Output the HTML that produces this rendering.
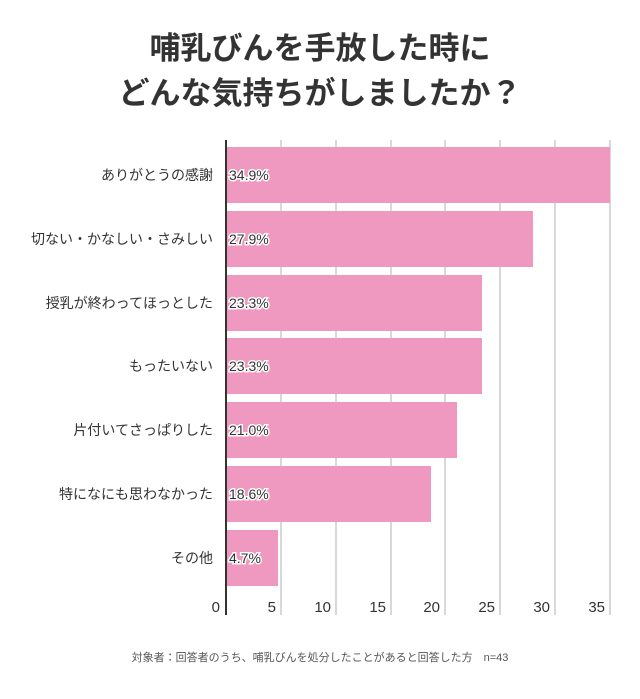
<!DOCTYPE html>
<html><head><meta charset="utf-8"><style>
body{margin:0;background:#fff;width:640px;height:694px;overflow:hidden;font-family:"Liberation Sans","Noto Sans CJK JP",sans-serif}
</style></head><body>
<svg width="640" height="694" xmlns="http://www.w3.org/2000/svg" font-family="Liberation Sans, Noto Sans CJK JP, sans-serif">
<text x="320" y="59" text-anchor="middle" font-size="31" font-weight="bold" fill="#333">哺乳びんを手放した時に</text>
<text x="320" y="104" text-anchor="middle" font-size="31" font-weight="bold" fill="#333">どんな気持ちがしましたか？</text>
<g stroke="#ccc" stroke-width="1.5">
<line x1="281" y1="140" x2="281" y2="615"/><line x1="336" y1="140" x2="336" y2="615"/>
<line x1="391" y1="140" x2="391" y2="615"/><line x1="445" y1="140" x2="445" y2="615"/>
<line x1="500" y1="140" x2="500" y2="615"/><line x1="555" y1="140" x2="555" y2="615"/>
<line x1="610" y1="140" x2="610" y2="615"/>
</g>
<g fill="#f099c0">
<rect x="226" y="147" width="384" height="56"/>
<rect x="226" y="211" width="307" height="56"/>
<rect x="226" y="275" width="256" height="56"/>
<rect x="226" y="338" width="256" height="56"/>
<rect x="226" y="402" width="231" height="56"/>
<rect x="226" y="466" width="205" height="56"/>
<rect x="226" y="530" width="52" height="56"/>
</g>
<line x1="226" y1="140" x2="226" y2="615" stroke="#333" stroke-width="2"/>
<g font-size="14" fill="#333" text-anchor="end">
<text x="213" y="180">ありがとうの感謝</text>
<text x="213" y="244">切ない・かなしい・さみしい</text>
<text x="213" y="308">授乳が終わってほっとした</text>
<text x="213" y="371">もったいない</text>
<text x="213" y="435">片付いてさっぱりした</text>
<text x="213" y="499">特になにも思わなかった</text>
<text x="213" y="563">その他</text>
</g>
<g font-size="14" fill="#333" stroke="#fff" stroke-width="3" paint-order="stroke">
<text x="229" y="180">34.9%</text><text x="229" y="244">27.9%</text>
<text x="229" y="308">23.3%</text><text x="229" y="371">23.3%</text>
<text x="229" y="435">21.0%</text><text x="229" y="499">18.6%</text>
<text x="229" y="563">4.7%</text>
</g>
<g font-size="15" fill="#333" text-anchor="end">
<text x="220" y="612">0</text><text x="276" y="612">5</text><text x="331" y="612">10</text>
<text x="386" y="612">15</text><text x="440" y="612">20</text><text x="495" y="612">25</text>
<text x="550" y="612">30</text><text x="605" y="612">35</text>
</g>
<text x="320" y="661" text-anchor="middle" font-size="11" fill="#555">対象者：回答者のうち、哺乳びんを処分したことがあると回答した方　n=43</text>
</svg>
</body></html>
